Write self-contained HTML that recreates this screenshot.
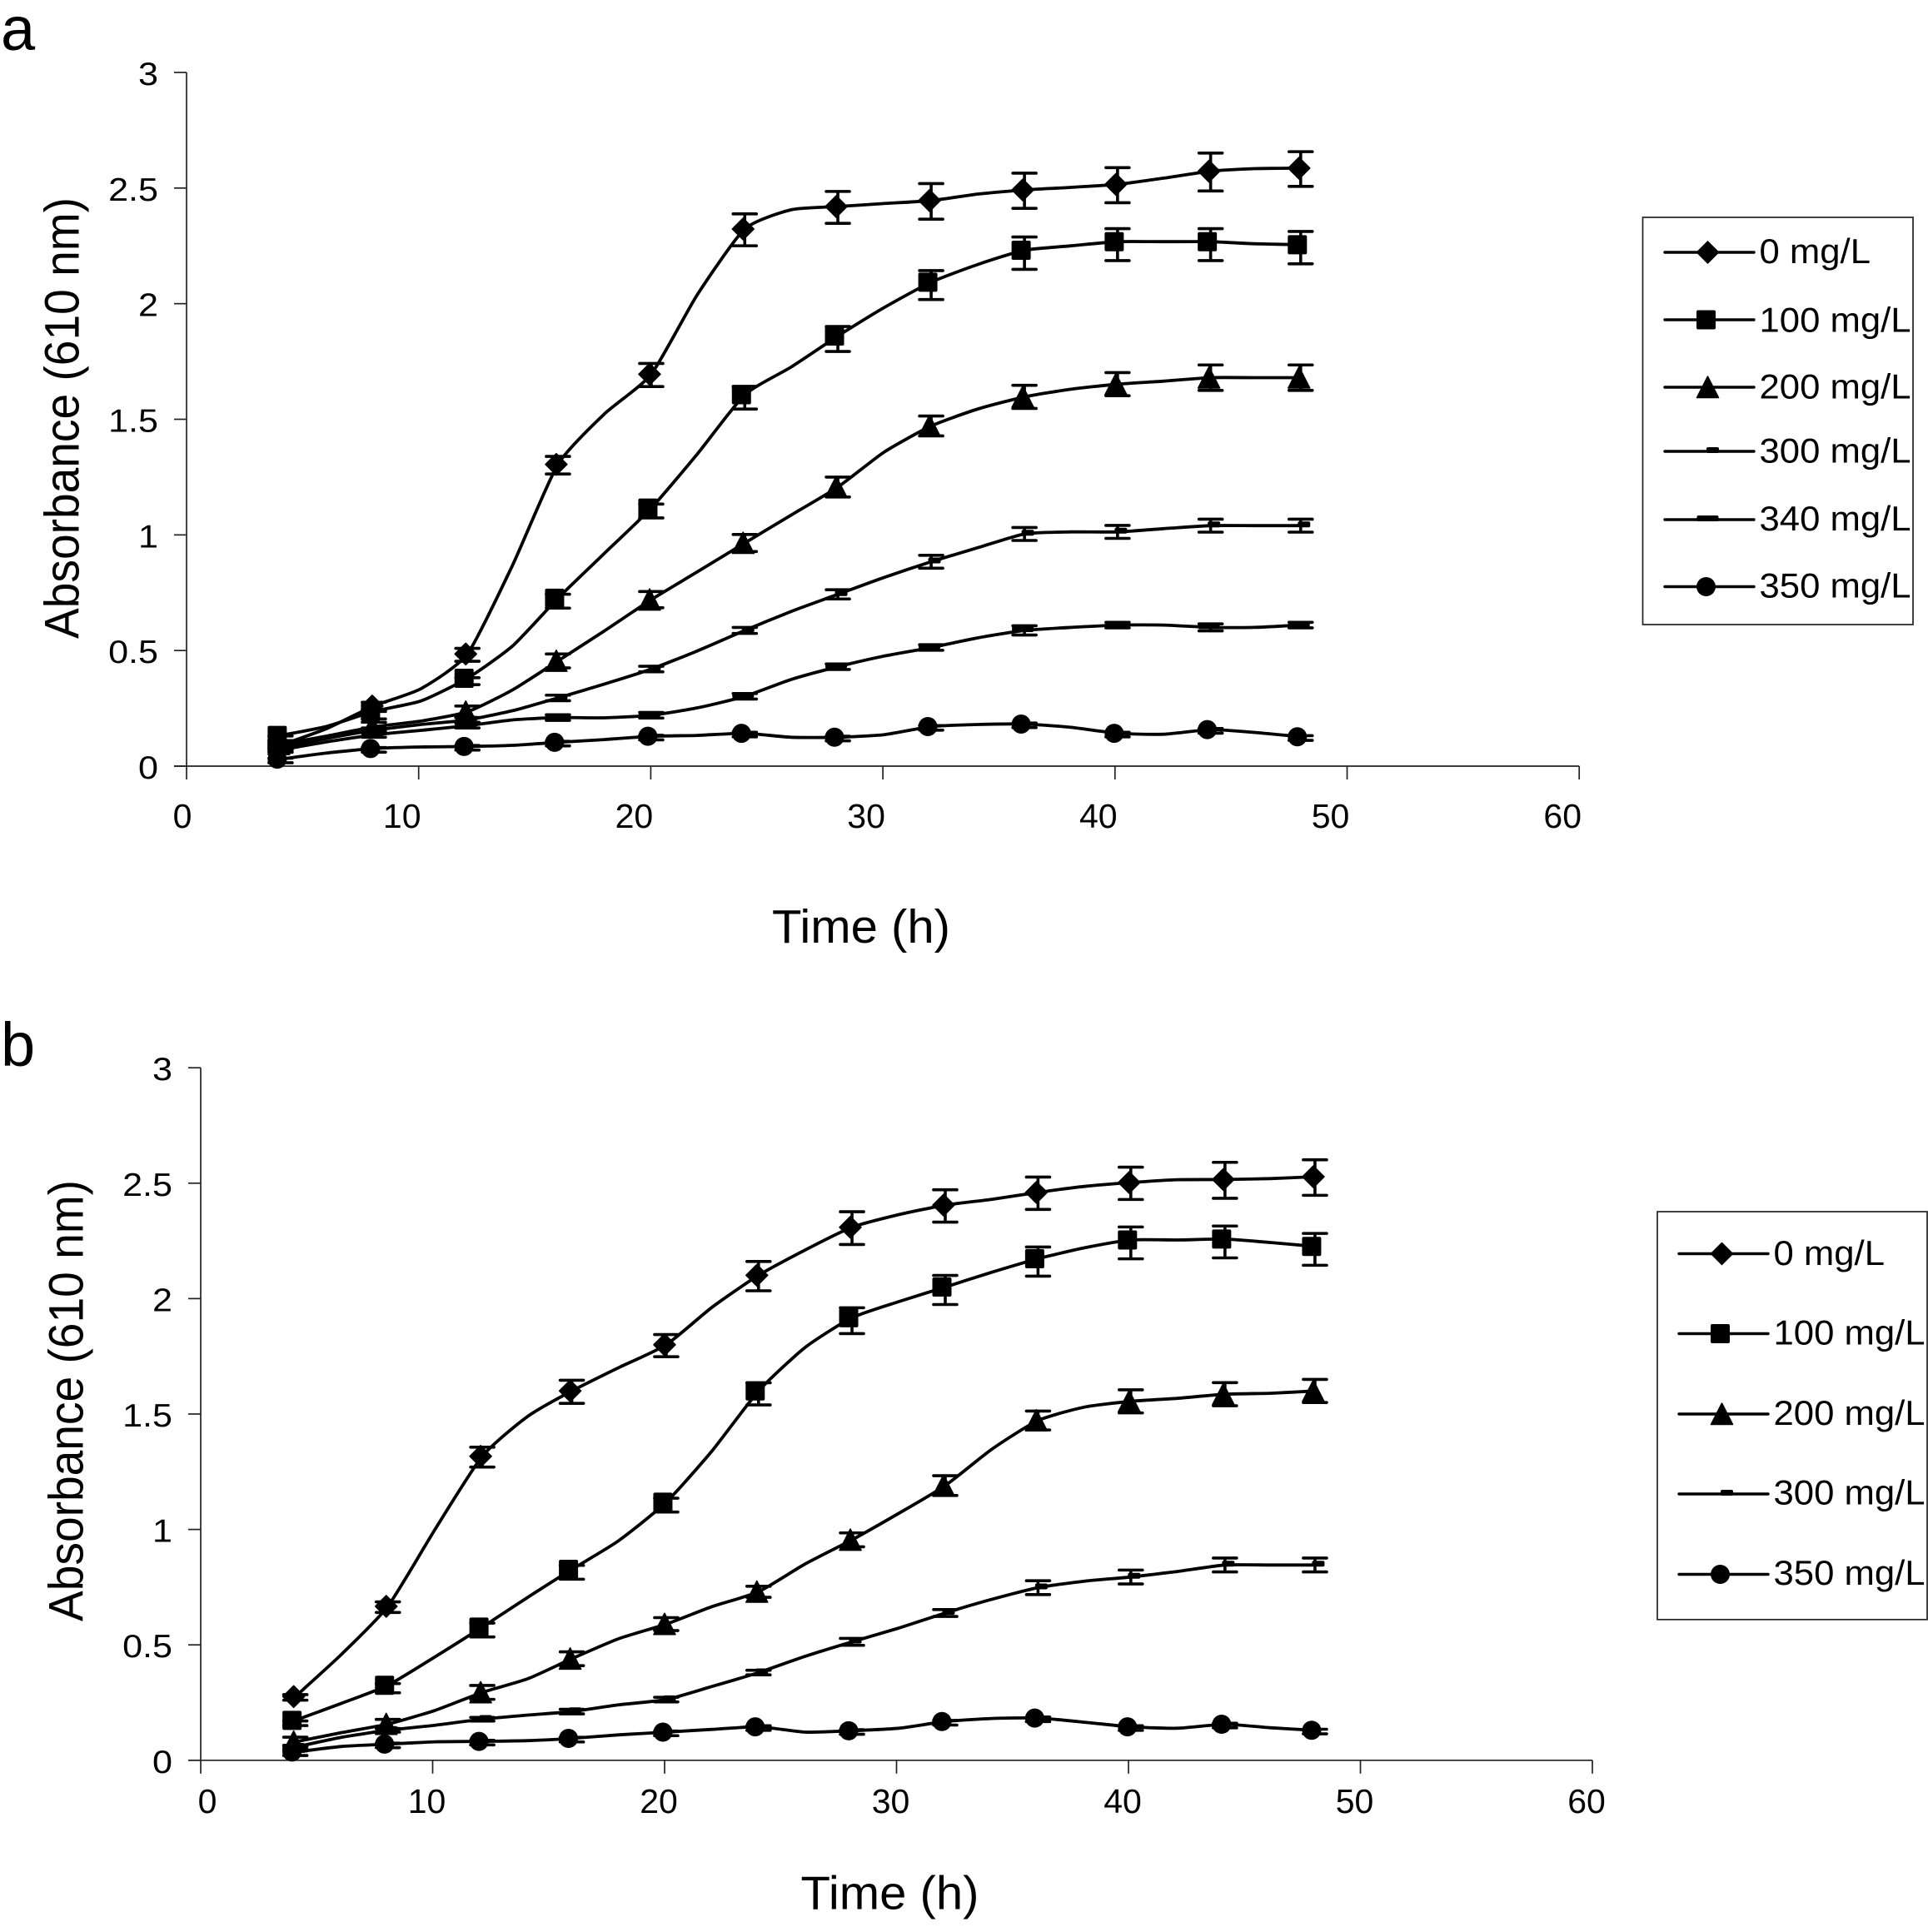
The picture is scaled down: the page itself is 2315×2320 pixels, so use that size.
<!DOCTYPE html>
<html lang="en">
<head>
<meta charset="utf-8">
<title>Absorbance over time at different concentrations</title>
<style>
  html, body { margin: 0; padding: 0; background: #fff; }
  svg { display: block; font-family: "Liberation Sans", sans-serif; }
</style>
</head>
<body>
<svg id="figure" xmlns="http://www.w3.org/2000/svg" width="2315" height="2320" viewBox="0 0 2315 2320"></svg>
<script>
// ---- Shared axis labels ----
const xTicks = [0, 10, 20, 30, 40, 50, 60];
const yTicks = [0, 0.5, 1, 1.5, 2, 2.5, 3];

// ---- Panel a data: sampled line values; every second sample carries a marker and error bar ----
const timesA = [4.05, 6.05, 8.07, 10.1, 12.1, 14.05, 16, 18, 20.02, 22, 24.05, 26.05, 28.06, 30.05, 32.08, 34.1, 36.1, 38.1, 40.11, 42.1, 44.12, 46, 48];
const a0 = [0.09, 0.163, 0.26, 0.335, 0.485, 0.87, 1.305, 1.523, 1.695, 2.038, 2.323, 2.406, 2.42, 2.433, 2.446, 2.474, 2.492, 2.503, 2.516, 2.543, 2.573, 2.584, 2.586];
const a100 = [0.133, 0.172, 0.237, 0.282, 0.38, 0.52, 0.726, 0.92, 1.116, 1.349, 1.606, 1.726, 1.86, 1.983, 2.093, 2.17, 2.231, 2.25, 2.268, 2.268, 2.268, 2.259, 2.255];
const a200 = [0.095, 0.13, 0.17, 0.195, 0.235, 0.33, 0.455, 0.585, 0.72, 0.84, 0.965, 1.086, 1.207, 1.358, 1.471, 1.545, 1.597, 1.63, 1.652, 1.665, 1.68, 1.68, 1.68];
const a300 = [0.08, 0.12, 0.155, 0.18, 0.2, 0.24, 0.295, 0.355, 0.42, 0.498, 0.587, 0.669, 0.743, 0.816, 0.884, 0.945, 1.004, 1.013, 1.013, 1.027, 1.04, 1.04, 1.04];
const a340 = [0.07, 0.105, 0.135, 0.155, 0.175, 0.2, 0.21, 0.209, 0.22, 0.252, 0.302, 0.375, 0.43, 0.476, 0.513, 0.555, 0.587, 0.6, 0.61, 0.61, 0.6, 0.6, 0.61];
const a350 = [0.03, 0.057, 0.076, 0.083, 0.085, 0.09, 0.103, 0.115, 0.129, 0.133, 0.142, 0.125, 0.125, 0.136, 0.171, 0.18, 0.182, 0.168, 0.142, 0.138, 0.158, 0.146, 0.127];
const errA0 = [0.01, 0.02, 0.028, 0.038, 0.05, 0.069, 0.069, 0.077, 0.076, 0.076, 0.082, 0.075];
const errA100 = [0.01, 0.02, 0.015, 0.03, 0.03, 0.049, 0.054, 0.0625, 0.07, 0.069, 0.069, 0.07];
const errA200 = [0.01, 0.02, 0.025, 0.03, 0.035, 0.037, 0.043, 0.043, 0.05, 0.05, 0.055, 0.055];
const errA300 = [0.01, 0.01, 0.01, 0.012, 0.012, 0.013, 0.02, 0.028, 0.028, 0.028, 0.028, 0.028];
const errA340 = [0.01, 0.01, 0.01, 0.012, 0.012, 0.012, 0.012, 0.012, 0.02, 0.012, 0.015, 0.012];
const errA350 = [0.01, 0.01, 0.01, 0.01, 0.01, 0.01, 0.01, 0.01, 0.01, 0.01, 0.01, 0.01];

// ---- Panel b data ----
const timesB = [4.08, 6.08, 8.07, 10.1, 12.14, 14.1, 16, 18, 20.07, 22.05, 24.05, 26.05, 28.08, 30.1, 32.1, 34.1, 36.1, 38.1, 40.1, 42.1, 44.16, 46.1, 48.04];
const b0 = [0.276, 0.46, 0.667, 1.0, 1.317, 1.49, 1.6, 1.7, 1.8, 1.963, 2.101, 2.21, 2.309, 2.364, 2.405, 2.43, 2.46, 2.486, 2.503, 2.515, 2.516, 2.52, 2.528];
const b100 = [0.173, 0.247, 0.325, 0.448, 0.577, 0.706, 0.827, 0.95, 1.118, 1.341, 1.6, 1.788, 1.917, 1.987, 2.05, 2.114, 2.173, 2.22, 2.254, 2.254, 2.258, 2.243, 2.226];
const b200 = [0.08, 0.12, 0.157, 0.216, 0.294, 0.353, 0.44, 0.526, 0.59, 0.666, 0.73, 0.85, 0.955, 1.07, 1.19, 1.347, 1.472, 1.53, 1.555, 1.568, 1.586, 1.59, 1.6];
const b300 = [0.057, 0.1, 0.13, 0.152, 0.178, 0.196, 0.211, 0.24, 0.263, 0.32, 0.38, 0.45, 0.513, 0.573, 0.638, 0.697, 0.748, 0.776, 0.794, 0.818, 0.846, 0.846, 0.846];
const b350 = [0.036, 0.06, 0.07, 0.08, 0.082, 0.085, 0.095, 0.11, 0.122, 0.134, 0.145, 0.122, 0.128, 0.139, 0.168, 0.181, 0.183, 0.165, 0.145, 0.139, 0.156, 0.141, 0.13];
const errB0 = [0.012, 0.023, 0.043, 0.05, 0.048, 0.0635, 0.071, 0.07, 0.07, 0.07, 0.078, 0.077];
const errB100 = [0.01, 0.02, 0.03, 0.03, 0.03, 0.048, 0.056, 0.063, 0.063, 0.069, 0.069, 0.069];
const errB200 = [0.02, 0.02, 0.03, 0.03, 0.028, 0.024, 0.03, 0.043, 0.041, 0.05, 0.05, 0.05];
const errB300 = [0.008, 0.008, 0.008, 0.01, 0.01, 0.01, 0.015, 0.015, 0.03, 0.03, 0.03, 0.03];
const errB350 = [0.01, 0.01, 0.01, 0.01, 0.01, 0.01, 0.01, 0.01, 0.01, 0.01, 0.01, 0.01];

const labelsA = ['0 mg/L', '100 mg/L', '200 mg/L', '300 mg/L', '340 mg/L', '350 mg/L'];
const labelsB = ['0 mg/L', '100 mg/L', '200 mg/L', '300 mg/L', '350 mg/L'];

const NS = 'http://www.w3.org/2000/svg';
const svg = document.getElementById('figure');
const INK = '#000';
const AXIS = '#222';

function make(tag, attrs, parent, text) {
  const node = document.createElementNS(NS, tag);
  Object.keys(attrs).forEach(function (k) { node.setAttribute(k, attrs[k]); });
  if (text !== undefined) node.textContent = text;
  parent.appendChild(node);
  return node;
}

function markerStyle(kind) {
  if (kind === 'diamond') return { dx: -2, dy: 0, errDy: 1 };
  if (kind === 'square') return { dx: -4, dy: 0, errDy: 3.5 };
  if (kind === 'triangle') return { dx: -2, dy: 0, errDy: 0 };
  if (kind === 'small-dash') return { dx: 4, dy: -1.5, errDy: 0 };
  if (kind === 'wide-dash') return { dx: -2, dy: -1.5, errDy: 0 };
  return { dx: -4, dy: 0, errDy: 1.5 };
}

function drawMarker(kind, cx, cy, parent) {
  const st = markerStyle(kind);
  const x = cx + st.dx;
  const y = cy + st.dy;
  let shape;
  if (kind === 'diamond') {
    shape = make('polygon', { points: [x, y - 13, x + 13, y, x, y + 13, x - 13, y].join(' '), fill: INK, stroke: INK, 'stroke-width': 1.5, 'stroke-linejoin': 'round' }, parent);
  } else if (kind === 'square') {
    shape = make('rect', { x: x - 11.5, y: y - 11.5, width: 23, height: 23, rx: 2, fill: INK }, parent);
  } else if (kind === 'triangle') {
    shape = make('polygon', { points: [x, y - 13, x + 13, y + 12.5, x - 13, y + 12.5].join(' '), fill: INK, stroke: INK, 'stroke-width': 1.5, 'stroke-linejoin': 'round' }, parent);
  } else if (kind === 'small-dash') {
    shape = make('rect', { x: x - 7.5, y: y - 3.5, width: 15, height: 7, rx: 2, fill: INK }, parent);
  } else if (kind === 'wide-dash') {
    shape = make('rect', { x: x - 13, y: y - 3.5, width: 26, height: 7, rx: 2, fill: INK }, parent);
  } else {
    shape = make('circle', { cx: x, cy: y, r: 11.5, fill: INK }, parent);
  }
  return shape;
}

function smoothPath(pts) {
  const k = 1 / 10;
  let d = 'M' + pts[0][0].toFixed(1) + ' ' + pts[0][1].toFixed(1);
  for (let i = 0; i < pts.length - 1; i++) {
    const p0 = pts[Math.max(0, i - 1)];
    const p1 = pts[i];
    const p2 = pts[i + 1];
    const p3 = pts[Math.min(pts.length - 1, i + 2)];
    d += 'C' + (p1[0] + (p2[0] - p0[0]) * k).toFixed(1) + ' ' + (p1[1] + (p2[1] - p0[1]) * k).toFixed(1) +
         ' ' + (p2[0] - (p3[0] - p1[0]) * k).toFixed(1) + ' ' + (p2[1] - (p3[1] - p1[1]) * k).toFixed(1) +
         ' ' + p2[0].toFixed(1) + ' ' + p2[1].toFixed(1);
  }
  return d;
}

function drawPanel(cfg) {
  const X = function (v) { return cfg.x0 + cfg.xScale * v; };
  const Y = function (v) { return cfg.y0 - cfg.yScale * v; };

  const panel = make('g', {}, svg);
  
  

  const letter = make('text', { x: 1, y: cfg.letterY, 'font-size': 74, fill: INK }, panel, cfg.id);
  
  

  const yAxis = make('line', { x1: X(0), y1: Y(0), x2: X(0), y2: Y(3), stroke: AXIS, 'stroke-width': 1.7 }, panel);
  
  

  const xAxis = make('line', { x1: X(0) - 15, y1: Y(0), x2: X(60), y2: Y(0), stroke: AXIS, 'stroke-width': 1.7 }, panel);
  
  

  yTicks.forEach(function (v) {
    const tick = make('line', { x1: X(0) - 15, y1: Y(v), x2: X(0), y2: Y(v), stroke: AXIS, 'stroke-width': 1.7 }, panel);
    
    
    const lab = make('text', {
      transform: 'translate(' + cfg.yLabelRight + ',' + (Y(v) + 15) + ') scale(1.12,1)',
      'text-anchor': 'end', 'font-size': 38.5, fill: INK
    }, panel, String(v));
    
    
  });

  xTicks.forEach(function (v) {
    const tick = make('line', { x1: X(v), y1: Y(0), x2: X(v), y2: Y(0) + 16, stroke: AXIS, 'stroke-width': 1.7 }, panel);
    
    
    const shift = v === 0 ? cfg.zeroShift : cfg.xLabelShift;
    const lab = make('text', {
      x: X(v) + shift, y: Y(0) + cfg.xLabelDrop, 'text-anchor': 'middle', 'font-size': 41, fill: INK
    }, panel, String(v));
    
    
  });

  const xTitle = make('text', {
    x: cfg.xTitleX, y: cfg.xTitleY, 'text-anchor': 'middle', 'font-size': 57, fill: INK,
    textLength: 214, lengthAdjust: 'spacingAndGlyphs'
  }, panel, 'Time (h)');
  
  

  const yTitle = make('text', {
    transform: 'translate(' + cfg.yTitleX + ',' + cfg.yTitleY + ') rotate(-90)',
    'text-anchor': 'middle', 'font-size': 58, fill: INK,
    textLength: 530, lengthAdjust: 'spacingAndGlyphs'
  }, panel, 'Absorbance (610 nm)');
  
  

  cfg.series.forEach(function (s) {
    const group = make('g', {}, panel);
    
    

    const st = markerStyle(s.kind);
    const pts = s.values.map(function (v, i) { return [X(cfg.times[i]), Y(v)]; });
    const line = make('path', { d: smoothPath(pts), fill: 'none', stroke: INK, 'stroke-width': 3.8, 'stroke-linejoin': 'round', 'stroke-linecap': 'round' }, group);
    
    

    s.err.forEach(function (e, i) {
      const idx = i * 2;
      const cx = X(cfg.times[idx]);
      const cy = Y(s.values[idx]) + st.errDy;
      const half = cfg.yScale * e;
      const bar = make('path', {
        d: 'M' + cx + ' ' + (cy - half) + 'V' + (cy + half) +
           'M' + (cx - 14) + ' ' + (cy - half) + 'H' + (cx + 14) +
           'M' + (cx - 14) + ' ' + (cy + half) + 'H' + (cx + 14),
        fill: 'none', stroke: INK, 'stroke-width': 3.6, 'stroke-linecap': 'round'
      }, group);
      
      

      const mark = drawMarker(s.kind, cx, Y(s.values[idx]), group);
      
      
    });
  });

  const L = cfg.legend;
  const box = make('g', {}, panel);
  
  

  const frame = make('rect', { x: L.x, y: L.y, width: L.w, height: L.h, fill: '#fff', stroke: '#222', 'stroke-width': 1.7 }, box);
  
  

  cfg.series.forEach(function (s, i) {
    const entry = make('g', {}, box);
    
    
    const ly = L.rows[i];
    const sw = make('line', { x1: L.lineX1, y1: ly, x2: L.lineX2, y2: ly, stroke: INK, 'stroke-width': 3.4, 'stroke-linecap': 'round' }, entry);
    
    
    const m = drawMarker(s.kind, (L.lineX1 + L.lineX2) / 2, ly, entry);
    
    
    const t = make('text', {
      transform: 'translate(' + L.textX + ',' + L.bases[i] + ') scale(1.04,1)',
      'font-size': 42, fill: INK
    }, entry, s.label);
    
    
  });
}

drawPanel({
  id: 'a', letterY: 60,
  x0: 224, xScale: 27.87, y0: 920, yScale: 277.67,
  yLabelRight: 190, xLabelShift: -20, zeroShift: -5, xLabelDrop: 74,
  xTitleX: 1034, xTitleY: 1132, yTitleX: 94.5, yTitleY: 502,
  times: timesA,
  series: [
    { label: labelsA[0], kind: 'diamond', values: a0, err: errA0 },
    { label: labelsA[1], kind: 'square', values: a100, err: errA100 },
    { label: labelsA[2], kind: 'triangle', values: a200, err: errA200 },
    { label: labelsA[3], kind: 'small-dash', values: a300, err: errA300 },
    { label: labelsA[4], kind: 'wide-dash', values: a340, err: errA340 },
    { label: labelsA[5], kind: 'circle', values: a350, err: errA350 }
  ],
  legend: {
    x: 1972.5, y: 261, w: 324.5, h: 489,
    lineX1: 1999, lineX2: 2106, textX: 2112.5,
    rows: [303, 384, 465, 542, 624, 704.5],
    bases: [316, 398.5, 478.5, 555.5, 637, 717.5]
  }
});

drawPanel({
  id: 'b', letterY: 1280,
  x0: 241, xScale: 27.85, y0: 2113.8, yScale: 277.2,
  yLabelRight: 207, xLabelShift: -7, zeroShift: 8, xLabelDrop: 63,
  xTitleX: 1068.5, xTitleY: 2292.5, yTitleX: 99.5, yTitleY: 1682,
  times: timesB,
  series: [
    { label: labelsB[0], kind: 'diamond', values: b0, err: errB0 },
    { label: labelsB[1], kind: 'square', values: b100, err: errB100 },
    { label: labelsB[2], kind: 'triangle', values: b200, err: errB200 },
    { label: labelsB[3], kind: 'small-dash', values: b300, err: errB300 },
    { label: labelsB[4], kind: 'circle', values: b350, err: errB350 }
  ],
  legend: {
    x: 1990, y: 1455, w: 324, h: 489.8,
    lineX1: 2016, lineX2: 2123, textX: 2129.5,
    rows: [1505.5, 1601.5, 1698, 1794, 1890.5],
    bases: [1519, 1614.5, 1711, 1806.5, 1903]
  }
});
</script>
</body>
</html>
